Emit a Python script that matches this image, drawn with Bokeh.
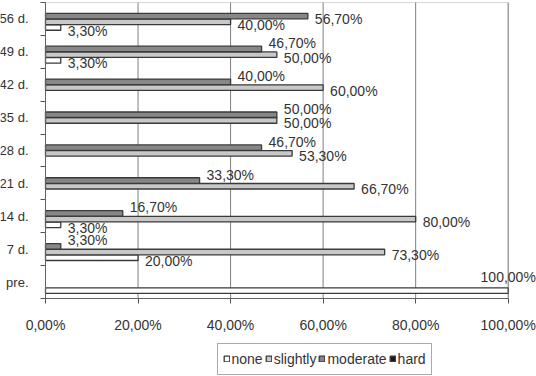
from bokeh.plotting import figure
from bokeh.models import (ColumnDataSource, Legend, LegendItem, FixedTicker, LabelSet,
                          Range1d, BoxAnnotation)
from bokeh.core.properties import value
from bokeh.embed import file_html
from bokeh.resources import INLINE

# ---- data ----
categories = ["pre.", "7 d.", "14 d.", "21 d.", "28 d.", "35 d.", "42 d.", "49 d.", "56 d."]
series_names = ["none", "slightly", "moderate", "hard"]
none_vals = [100.0, 20.0, 3.3, 0.0, 0.0, 0.0, 0.0, 3.3, 3.3]
slightly_vals = [0.0, 73.3, 80.0, 66.7, 53.3, 50.0, 60.0, 50.0, 40.0]
moderate_vals = [0.0, 3.3, 16.7, 33.3, 46.7, 50.0, 40.0, 46.7, 56.7]
hard_vals = [0.0, 0.0, 0.0, 0.0, 0.0, 0.0, 0.0, 0.0, 0.0]
x_ticks = [0, 20, 40, 60, 80, 100]
x_tick_labels = ["0,00%", "20,00%", "40,00%", "60,00%", "80,00%", "100,00%"]

all_vals = [none_vals, slightly_vals, moderate_vals, hard_vals]
fills = ["#ffffff", "#c8c8c8", "#878787", "#1a1a1a"]
FONT = "Liberation Sans"
TXT = "#333333"
N = len(categories)
X_MAX = 100

# The frame covers the whole canvas; axes are drawn at fixed positions inside it
W, H = 536, 376
PX_L, PX_R = 45.0, 507.7     # pixel columns of 0 % and 100 %
PX_T, PX_B = 2.0, 298.0      # pixel rows of the top and bottom of the plot area
sx = (PX_R - PX_L) / X_MAX
sy = (PX_B - PX_T) / N
x_view = (-PX_L / sx, (W - PX_L) / sx)
y_view = (-(H - PX_B) / sy, N + PX_T / sy)

p = figure(width=W, height=H, output_backend="svg", toolbar_location=None,
           x_range=Range1d(*x_view), y_range=Range1d(*y_view),
           min_border_left=0, min_border_right=0, min_border_top=0, min_border_bottom=0)
p.background_fill_color = "white"
p.border_fill_color = "white"
p.outline_line_color = None
p.xgrid.grid_line_color = None
p.ygrid.grid_line_color = None

# vertical grid lines at the x ticks, limited to the plot area
p.segment(x0=x_ticks, y0=[0] * len(x_ticks), x1=x_ticks, y1=[N] * len(x_ticks),
          line_color="#808080", line_width=1)
# plot-area border (0..100 %)
p.add_layout(BoxAnnotation(left=0, right=X_MAX, bottom=0, top=N,
                           fill_color=None, line_color="#808080", line_width=1))

step = 0.1735
bar_h = 0.168
nan = float("nan")
renderers = []
label_x, label_y, label_t, label_dy, label_dx, label_al = [], [], [], [], [], []
for k, (name, vals) in enumerate(zip(series_names, all_vals)):
    off = (k - 1.5) * step
    ys = [i + 0.5 + off for i in range(N)]
    rs = [v if v > 0 else nan for v in vals]
    for i, v in enumerate(vals):
        if v > 0:
            label_x.append(v)
            label_y.append(i + 0.5 + off)
            label_t.append(("%.2f" % v).replace(".", ",") + "%")
            if v >= X_MAX:
                label_dy.append(14); label_dx.append(0); label_al.append("center")
            else:
                below_longer = k > 0 and all_vals[k - 1][i] >= v
                label_dy.append(6 if below_longer else -3)
                label_dx.append(7); label_al.append("left")
    src = ColumnDataSource(dict(y=ys, right=rs))
    r = p.hbar(y="y", left=0, right="right", height=bar_h, source=src,
               fill_color=fills[k], line_color="#3a3a3a", line_width=1.3)
    renderers.append((name, r))

lsrc = ColumnDataSource(dict(x=label_x, y=label_y, t=label_t, dy=label_dy, dx=label_dx, al=label_al))
labels = LabelSet(x="x", y="y", text="t", x_offset="dx", y_offset="dy", source=lsrc,
                  text_align="al", text_baseline="middle",
                  text_font=value(FONT), text_font_size=value("14px"), text_color=value(TXT))
p.add_layout(labels)

# x axis, drawn at y = 0 inside the frame
p.xaxis.fixed_location = 0
p.xaxis.ticker = FixedTicker(ticks=x_ticks)
p.xaxis.bounds = (0, X_MAX)
p.xaxis.major_label_overrides = {t: l for t, l in zip(x_ticks, x_tick_labels)}
p.xaxis.major_tick_out = 5
p.xaxis.major_tick_in = 0
p.xaxis.minor_tick_line_color = None
p.xaxis.major_label_standoff = 13
p.xaxis.axis_line_color = "#555555"
p.xaxis.major_tick_line_color = "#555555"
p.xaxis.major_label_text_font = FONT
p.xaxis.major_label_text_font_size = "14px"
p.xaxis.major_label_text_color = TXT

# y axis at x = 0: labels at category centres, ticks at boundaries
centers = [i + 0.5 for i in range(N)]
p.yaxis.fixed_location = 0
p.yaxis.ticker = FixedTicker(ticks=centers, minor_ticks=list(range(N + 1)))
p.yaxis.bounds = (0, N)
p.yaxis.major_label_overrides = {c: n for c, n in zip(centers, categories)}
p.yaxis.major_tick_out = 0
p.yaxis.major_tick_in = 0
p.yaxis.minor_tick_out = 5
p.yaxis.minor_tick_in = 0
p.yaxis.minor_tick_line_color = "#555555"
p.yaxis.axis_line_color = "#555555"
p.yaxis.major_label_standoff = 12
p.yaxis.major_label_text_font = FONT
p.yaxis.major_label_text_font_size = "13px"
p.yaxis.major_label_text_color = TXT

legend = Legend(items=[LegendItem(label=n, renderers=[r]) for n, r in renderers],
                orientation="horizontal", location=(216.5, 1.5),
                glyph_width=7, glyph_height=7, label_standoff=2, spacing=2, padding=5,
                margin=0, label_height=20,
                label_text_font=FONT, label_text_font_size="14px", label_text_color=TXT,
                border_line_color="#555555", border_line_width=1,
                background_fill_color="white", background_fill_alpha=1.0)
p.add_layout(legend, "center")

open("out.html", "w").write(file_html(p, INLINE))
